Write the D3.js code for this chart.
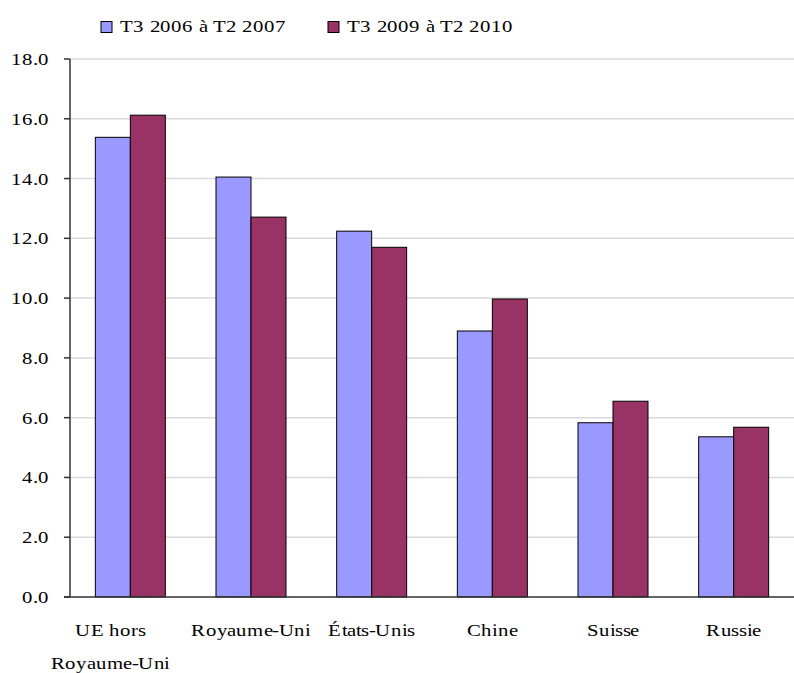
<!DOCTYPE html>
<html>
<head>
<meta charset="utf-8">
<script src="https://cdn.jsdelivr.net/npm/d3@7"></script>
<style>
  @font-face {
    font-family: "RefSerif";
    src: local("Liberation Serif"), local("LiberationSerif-Regular"), local("LiberationSerif"),
         local("Times New Roman"), local("DejaVu Serif"), local("DejaVuSerif");
  }
  html, body { margin: 0; padding: 0; background: #fff; }
  svg { display: block; }
</style>
</head>
<body>
<svg id="chart" width="794" height="673"></svg>
<script>
// ─── Data ────────────────────────────────────────────────────────────────────

const categories = [
  ['UE hors', 'Royaume-Uni'],
  ['Royaume-Uni'],
  ['États-Unis'],
  ['Chine'],
  ['Suisse'],
  ['Russie'],
];

const seriesNames  = ['T3 2006 à T2 2007', 'T3 2009 à T2 2010'];
const seriesColors = ['#9999ff', '#993366'];

const values2006 = [15.38, 14.05, 12.24, 8.90, 5.83, 5.36];
const values2009 = [16.12, 12.71, 11.70, 9.97, 6.55, 5.68];

const yTicks = [0, 2, 4, 6, 8, 10, 12, 14, 16, 18];

// ─── Setup ───────────────────────────────────────────────────────────────────

const svg = d3.select('#chart');
const margin = { left: 70, right: 0, top: 59, bottom: 76 };
const W = 794, H = 673;
const FS = 17;       // font size
const SX = 1.22;     // the reference text is stretched horizontally
const FONT = 'RefSerif, "Liberation Serif", "DejaVu Serif", serif';

const x0 = d3.scaleBand()
  .domain(d3.range(categories.length))
  .range([margin.left, W - margin.right])
  .padding(0);

const groupW = x0.bandwidth() * 0.58;
const x1 = d3.scaleBand()
  .domain([0, 1])
  .range([0, groupW]);

const y = d3.scaleLinear()
  .domain([0, 18])
  .range([H - margin.bottom, margin.top]);

function label(g, x, yy, str, anchor) {
  return g.append('text')
    .attr('transform', `translate(${x},${yy}) scale(${SX},1)`)
    .attr('text-anchor', anchor || 'start')
    .attr('font-family', FONT)
    .attr('font-size', FS)
    .attr('fill', '#000')
    .text(str);
}

// ─── Grid ────────────────────────────────────────────────────────────────────

svg.append('g').selectAll('line')
  .data(yTicks.filter(d => d > 0))
  .join('line')
  .attr('x1', margin.left).attr('x2', W - margin.right)
  .attr('y1', d => y(d)).attr('y2', d => y(d))
  .attr('stroke', '#d9d9d9').attr('stroke-width', 1.5);

// ─── Bars ────────────────────────────────────────────────────────────────────

const rows = categories.map((c, i) => [values2006[i], values2009[i]]);

svg.append('g').selectAll('g')
  .data(rows)
  .join('g')
  .attr('transform', (d, i) => `translate(${x0(i) + (x0.bandwidth() - groupW) / 2},0)`)
  .selectAll('rect')
  .data(d => d)
  .join('rect')
  .attr('x', (d, j) => x1(j))
  .attr('width', x1.bandwidth())
  .attr('y', d => y(d))
  .attr('height', d => y(0) - y(d))
  .attr('fill', (d, j) => seriesColors[j])
  .attr('stroke', '#000')
  .attr('stroke-width', 1);

// ─── Axes ────────────────────────────────────────────────────────────────────

const axis = svg.append('g');
axis.append('line')
  .attr('x1', margin.left).attr('x2', margin.left)
  .attr('y1', y(18)).attr('y2', y(0))
  .attr('stroke', '#333').attr('stroke-width', 1.5);
axis.append('line')
  .attr('x1', margin.left - 6).attr('x2', W - margin.right)
  .attr('y1', y(0)).attr('y2', y(0))
  .attr('stroke', '#333').attr('stroke-width', 1.5);

axis.selectAll('line.tick')
  .data(yTicks)
  .join('line')
  .attr('class', 'tick')
  .attr('x1', margin.left - 6).attr('x2', margin.left)
  .attr('y1', d => y(d)).attr('y2', d => y(d))
  .attr('stroke', '#333').attr('stroke-width', 1.5);

yTicks.forEach(t => {
  label(axis, 49, y(t) + 6, t.toFixed(1), 'end');
});

categories.forEach((lines, i) => {
  const cx = x0(i) + x0.bandwidth() / 2 + (lines.length > 1 ? -20 : 0);
  lines.forEach((ln, k) => {
    label(axis, cx, y(0) + 39 + k * 33, ln, 'middle');
  });
});

// ─── Legend ──────────────────────────────────────────────────────────────────

const legend = svg.append('g');
const legendX = [101, 328];
seriesNames.forEach((name, j) => {
  legend.append('rect')
    .attr('x', legendX[j]).attr('y', 21.5)
    .attr('width', 11).attr('height', 11)
    .attr('fill', seriesColors[j])
    .attr('stroke', '#000').attr('stroke-width', 1);
  label(legend, legendX[j] + 19, 32, name);
});
</script>
</body>
</html>
